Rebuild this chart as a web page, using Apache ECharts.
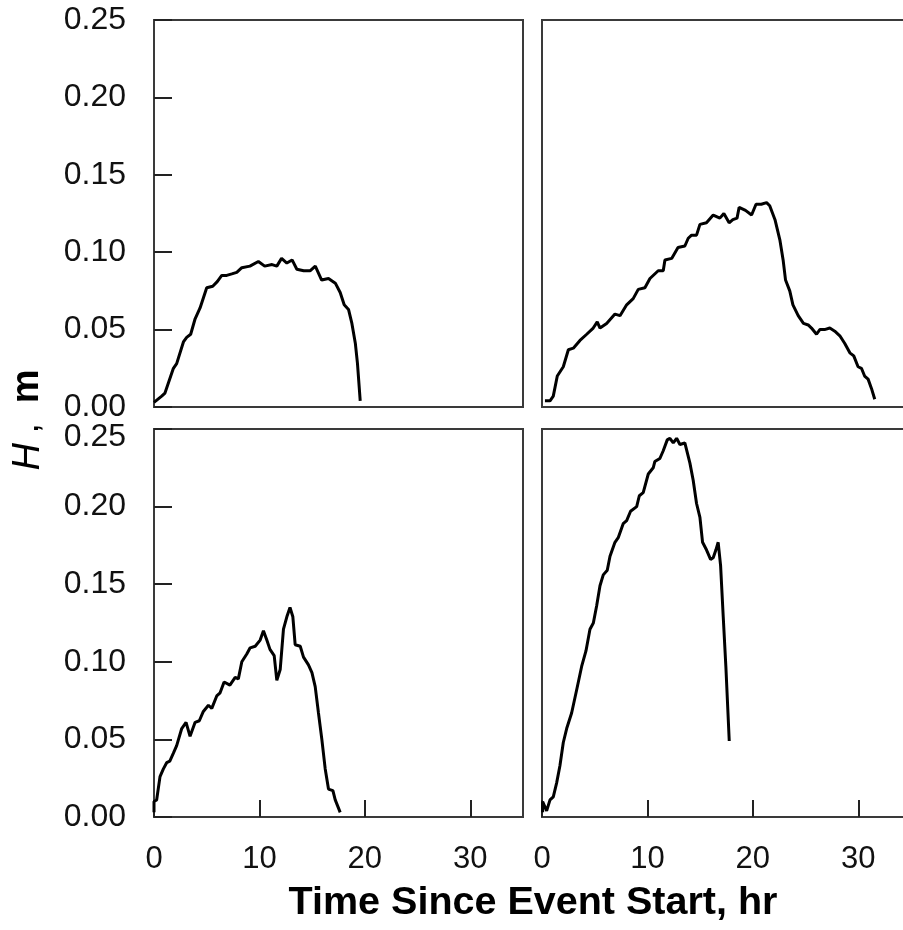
<!DOCTYPE html>
<html>
<head>
<meta charset="utf-8">
<script src="https://cdn.jsdelivr.net/npm/echarts@6/dist/echarts.min.js"></script>
<style>
html,body{margin:0;padding:0;background:#fff;}
#chart{width:903px;height:930px;}
</style>
</head>
<body>
<div id="chart"></div>
<script>
// ---- data (time in hr, H in m) ----
const xTickLabels = ['0', '10', '20', '30'];
const yTickLabels = ['0.00', '0.05', '0.10', '0.15', '0.20', '0.25'];

// top-left panel
const tA = [0, 0.73, 1.04, 1.84, 2.15, 2.79, 3.1, 3.48, 3.9, 4.37, 5.0, 5.57, 6.0, 6.43, 6.9, 7.38, 7.85, 8.33, 9.1, 9.9, 10.5, 11.2, 11.65, 12.1, 12.6, 13.1, 13.55, 14.2, 14.8, 15.3, 15.9, 16.55, 17.2, 17.66, 18.04, 18.45, 18.77, 19.1, 19.3, 19.56];
const hA = [0.003, 0.007, 0.009, 0.025, 0.028, 0.042, 0.045, 0.047, 0.057, 0.064, 0.077, 0.078, 0.081, 0.085, 0.085, 0.086, 0.087, 0.090, 0.091, 0.094, 0.091, 0.092, 0.091, 0.096, 0.093, 0.095, 0.089, 0.088, 0.088, 0.091, 0.082, 0.083, 0.080, 0.074, 0.066, 0.063, 0.054, 0.041, 0.028, 0.004];

// top-right panel
const tB = [0.28, 0.76, 1.07, 1.45, 2.02, 2.5, 2.97, 3.6, 4.24, 4.86, 5.24, 5.5, 6.13, 6.92, 7.4, 8.03, 8.65, 9.13, 9.76, 10.24, 11.02, 11.5, 11.66, 12.3, 12.9, 13.55, 13.87, 14.19, 14.66, 14.98, 15.6, 16.24, 16.87, 17.25, 17.75, 18.1, 18.5, 18.7, 19.3, 19.88, 20.3, 20.8, 21.3, 21.6, 22.1, 22.56, 22.87, 23.1, 23.5, 23.8, 24.3, 24.8, 25.25, 25.56, 26.04, 26.35, 26.8, 27.3, 27.77, 28.25, 28.72, 29.2, 29.57, 29.98, 30.3, 30.6, 30.93, 31.25, 31.56];
const hB = [0.004, 0.004, 0.007, 0.020, 0.026, 0.037, 0.038, 0.043, 0.047, 0.051, 0.055, 0.051, 0.054, 0.060, 0.059, 0.066, 0.070, 0.076, 0.077, 0.083, 0.088, 0.088, 0.095, 0.096, 0.103, 0.104, 0.109, 0.111, 0.111, 0.118, 0.119, 0.124, 0.122, 0.125, 0.119, 0.121, 0.122, 0.129, 0.127, 0.124, 0.131, 0.131, 0.132, 0.130, 0.121, 0.108, 0.095, 0.082, 0.075, 0.066, 0.059, 0.054, 0.053, 0.051, 0.047, 0.050, 0.050, 0.051, 0.049, 0.046, 0.041, 0.035, 0.033, 0.026, 0.025, 0.020, 0.018, 0.012, 0.005];

// bottom-left panel
const tC = [0, 0, 0.25, 0.57, 0.89, 1.2, 1.5, 1.83, 2.15, 2.63, 3.04, 3.42, 3.9, 4.3, 4.68, 5.16, 5.48, 5.95, 6.27, 6.65, 7.2, 7.7, 8.0, 8.33, 8.8, 9.12, 9.6, 10.07, 10.38, 10.7, 11.0, 11.4, 11.65, 11.97, 12.28, 12.6, 12.9, 13.17, 13.39, 13.87, 14.18, 14.65, 14.98, 15.29, 15.6, 15.92, 16.24, 16.55, 16.97, 17.19, 17.66];
const hC = [0.003, 0.010, 0.011, 0.026, 0.031, 0.035, 0.036, 0.041, 0.046, 0.057, 0.061, 0.052, 0.061, 0.062, 0.068, 0.072, 0.070, 0.078, 0.080, 0.087, 0.085, 0.090, 0.089, 0.100, 0.105, 0.109, 0.110, 0.114, 0.120, 0.114, 0.108, 0.104, 0.088, 0.095, 0.121, 0.129, 0.135, 0.129, 0.111, 0.110, 0.103, 0.098, 0.093, 0.084, 0.067, 0.050, 0.031, 0.018, 0.017, 0.011, 0.003];

// bottom-right panel
const tD = [0.06, 0.06, 0.44, 0.76, 1.07, 1.39, 1.7, 2.02, 2.34, 2.81, 3.29, 3.76, 4.17, 4.55, 4.87, 5.18, 5.5, 5.81, 6.19, 6.45, 6.92, 7.23, 7.7, 8.03, 8.4, 8.98, 9.23, 9.6, 10.08, 10.55, 10.7, 11.18, 11.5, 11.88, 12.13, 12.45, 12.77, 13.08, 13.55, 14.03, 14.34, 14.66, 14.98, 15.23, 15.61, 15.99, 16.24, 16.49, 16.71, 16.94, 17.19, 17.44, 17.76];
const hD = [0.003, 0.010, 0.004, 0.011, 0.013, 0.022, 0.033, 0.048, 0.057, 0.067, 0.082, 0.097, 0.107, 0.121, 0.125, 0.136, 0.149, 0.156, 0.159, 0.168, 0.177, 0.180, 0.189, 0.191, 0.197, 0.200, 0.207, 0.209, 0.221, 0.225, 0.229, 0.231, 0.236, 0.243, 0.244, 0.241, 0.244, 0.240, 0.241, 0.228, 0.217, 0.202, 0.193, 0.177, 0.172, 0.166, 0.167, 0.172, 0.177, 0.162, 0.129, 0.097, 0.049];

const xTitle = 'Time Since Event Start, hr';

// ---- build chart ----
const FONT = '"Liberation Sans", Arial, Helvetica, sans-serif';
const zip = (t, h) => t.map((v, i) => [v, h[i]]);
const panels = [
  {t: tA, h: hA, left: 154, top: 20, height: 387, xl: false, yl: true, shiftTop: false},
  {t: tB, h: hB, left: 542, top: 20, height: 387, xl: false, yl: false, shiftTop: false},
  {t: tC, h: hC, left: 154, top: 429, height: 388, xl: true, yl: true, shiftTop: true},
  {t: tD, h: hD, left: 542, top: 429, height: 388, xl: true, yl: false, shiftTop: false}
];

const grids = [], xAxes = [], yAxes = [], series = [];
panels.forEach((p, i) => {
  grids.push({left: p.left, top: p.top, width: 369, height: p.height, show: true,
    borderColor: '#3a3a3a', borderWidth: 2, backgroundColor: '#fff', containLabel: false,
    outerBoundsMode: 'none'});
  xAxes.push({type: 'value', gridIndex: i, min: 0, max: 35, interval: 10,
    axisLine: {show: true, lineStyle: {color: '#3a3a3a', width: 2}},
    axisTick: {show: p.xl, inside: true, length: 17, lineStyle: {color: '#222', width: 2}},
    axisLabel: {show: p.xl, fontSize: 31, color: '#111', fontFamily: FONT, margin: 27, showMaxLabel: false,
      formatter: v => { const s = String(Math.round(v)); return xTickLabels.indexOf(s) >= 0 && Math.abs(v - Math.round(v)) < 1e-9 ? s : ''; }},
    splitLine: {show: false}});
  yAxes.push({type: 'value', gridIndex: i, min: 0, max: 0.25, interval: 0.05,
    axisLine: {show: true, lineStyle: {color: '#3a3a3a', width: 2}},
    axisTick: {show: p.yl, inside: true, length: 18, lineStyle: {color: '#222', width: 2}},
    axisLabel: {show: p.yl, fontSize: 32, color: '#111', fontFamily: FONT, margin: 28,
      formatter: v => {
        const k = Math.round(v / 0.05);
        const s = yTickLabels[k] || '';
        return (p.shiftTop && k === 5) ? '{s|' + s + '}' : s;
      },
      rich: {s: {fontSize: 32, color: '#111', fontFamily: FONT, padding: [16, 0, 0, 0]}}},
    splitLine: {show: false}});
  series.push({type: 'line', xAxisIndex: i, yAxisIndex: i, data: zip(p.t, p.h),
    showSymbol: false, symbol: 'none', lineStyle: {color: '#000', width: 3}, clip: true});
});

const chart = echarts.init(document.getElementById('chart'), null, {renderer: 'canvas'});
chart.setOption({
  animation: false,
  backgroundColor: '#fff',
  grid: grids, xAxis: xAxes, yAxis: yAxes, series: series,
  graphic: [
    {type: 'text', x: 533, y: 903, style: {text: xTitle, fontSize: 39.5, fontWeight: 'bold', fontFamily: FONT,
      fill: '#000', align: 'center', verticalAlign: 'middle'}},
    {type: 'text', x: 28, y: 420, rotation: Math.PI / 2,
      style: {text: '{h|H} ,  {m|m}', fontSize: 36, fontFamily: FONT, fill: '#000', align: 'center', verticalAlign: 'middle',
        rich: {h: {fontSize: 38, fontStyle: 'italic', fontFamily: FONT, fill: '#000'},
               m: {fontSize: 38, fontWeight: 'bold', fontFamily: FONT, fill: '#000'}}}}
  ]
});
</script>
</body>
</html>
